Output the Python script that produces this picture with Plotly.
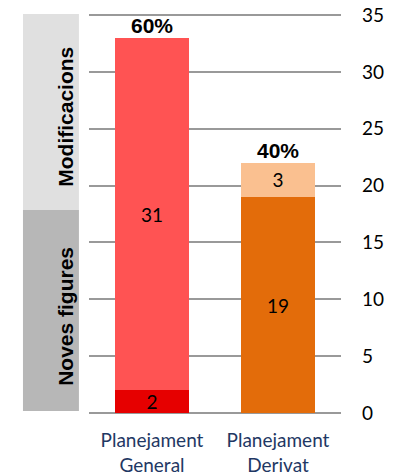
import plotly.graph_objects as go

categories = ["Planejament<br>General", "Planejament<br>Derivat"]
noves_figures = [2, 19]
modificacions = [31, 3]
percentages = ["60%", "40%"]
y_ticks = [0, 5, 10, 15, 20, 25, 30, 35]

noves_colors = ["#e60000", "#e36c0a"]
modif_colors = ["#ff5353", "#fac090"]

fig = go.Figure()
fig.add_trace(go.Bar(
    x=categories, y=noves_figures, marker=dict(color=noves_colors, line=dict(width=0)),
    text=[str(v) for v in noves_figures], textposition="inside",
    insidetextanchor="middle", textangle=0, constraintext="none",
    textfont=dict(family="Lato", size=19, color="black"), width=0.58,
    showlegend=False, hoverinfo="skip"))
fig.add_trace(go.Bar(
    x=categories, y=modificacions, marker=dict(color=modif_colors, line=dict(width=0)),
    text=[str(v) for v in modificacions], textposition="inside",
    insidetextanchor="middle", textangle=0, constraintext="none",
    textfont=dict(family="Lato", size=19, color="black"), width=0.58,
    showlegend=False, hoverinfo="skip"))

totals = [a + b for a, b in zip(noves_figures, modificacions)]
for c, t, p in zip(categories, totals, percentages):
    fig.add_annotation(x=c, y=t, text="<b>" + p + "</b>", showarrow=False,
                       yanchor="bottom", yshift=-1,
                       font=dict(family="Liberation Sans", size=21, color="black"))

# side boxes
fig.add_shape(type="rect", xref="paper", yref="y", x0=-0.262, x1=-0.04, y0=17.85, y1=35.45,
              fillcolor="#e0e0e0", line=dict(width=0), layer="below")
fig.add_shape(type="rect", xref="paper", yref="y", x0=-0.262, x1=-0.04, y0=0.18, y1=17.85,
              fillcolor="#b7b7b7", line=dict(width=0), layer="below")
fig.add_annotation(xref="paper", yref="y", x=-0.147, y=26.1, text="<b>Modificacions</b>",
                   textangle=-90, showarrow=False,
                   font=dict(family="Liberation Sans", size=21, color="black"))
fig.add_annotation(xref="paper", yref="y", x=-0.147, y=8.5, text="<b>Noves figures</b>",
                   textangle=-90, showarrow=False,
                   font=dict(family="Liberation Sans", size=21, color="black"))

fig.update_layout(
    barmode="stack",
    width=400, height=476,
    margin=dict(l=89, r=59, t=14, b=63, autoexpand=False),
    plot_bgcolor="white", paper_bgcolor="white",
    xaxis=dict(showgrid=False, showline=False, ticks="", automargin=False,
               ticklabelstandoff=14,
               tickfont=dict(family="Lato", size=19, color="#1f3864")),
    yaxis=dict(side="right", range=[0, 35.1], tickvals=y_ticks, automargin=False,
               showgrid=True, gridcolor="#999999", gridwidth=2,
               zeroline=True, zerolinecolor="#999999", zerolinewidth=2,
               showline=False, ticks="", ticklabelstandoff=20,
               tickfont=dict(family="Lato", size=19, color="black")),
)

fig.write_html("out.html", config={"displayModeBar": False},
               post_script="document.body.style.margin='0';")
